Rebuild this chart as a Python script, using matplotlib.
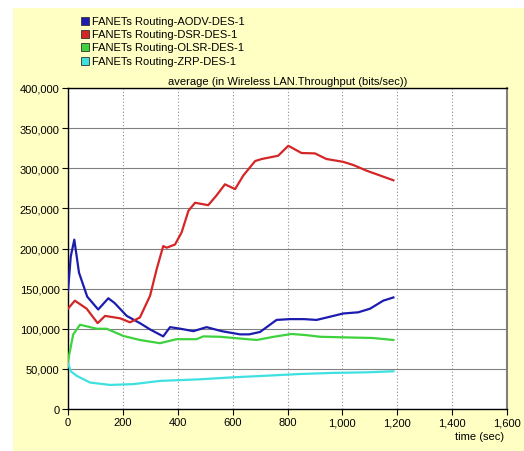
import matplotlib.pyplot as plt
from matplotlib.patches import Rectangle
from matplotlib.ticker import FuncFormatter

plt.rcParams['font.family'] = ['Liberation Sans', 'DejaVu Sans']

# time (sec) and throughput (bits/sec)
aodv_t = [0, 10, 23, 40, 70, 110, 147, 170, 214, 262, 300, 347, 372, 410, 457, 505, 560, 627, 660, 700, 724, 760, 809, 860, 906, 967, 1003, 1058, 1101, 1149, 1186]
aodv_v = [147000, 190000, 211000, 170000, 140000, 124000, 138000, 132000, 116000, 107000, 99000, 90500, 102000, 100000, 97000, 102000, 97000, 93000, 93000, 96000, 102000, 111000, 112000, 112000, 111000, 116000, 119000, 120500, 125000, 135000, 139000]

dsr_t = [0, 25, 68, 108, 135, 190, 226, 262, 299, 323, 347, 360, 390, 414, 439, 463, 511, 541, 572, 609, 639, 682, 706, 766, 803, 851, 900, 942, 1003, 1040, 1088, 1186]
dsr_v = [125000, 135000, 125000, 107000, 116000, 113000, 108000, 114000, 141000, 174000, 203000, 201000, 205000, 220000, 247000, 257000, 254000, 266000, 280000, 274000, 291000, 309000, 311500, 315600, 328000, 319000, 318500, 311500, 308000, 304000, 297000, 285000]

olsr_t = [0, 19, 44, 105, 141, 202, 262, 335, 396, 469, 493, 554, 620, 688, 750, 815, 870, 919, 1040, 1110, 1186]
olsr_v = [60000, 93000, 105000, 100000, 100000, 91000, 86000, 82000, 87000, 87000, 90500, 90000, 88000, 86000, 90000, 93500, 92000, 90000, 89000, 88500, 86000]

zrp_t = [0, 10, 31, 80, 153, 238, 335, 481, 602, 724, 845, 967, 1088, 1186]
zrp_v = [57000, 47000, 41500, 33000, 30000, 31000, 35000, 37000, 39500, 41500, 43600, 45000, 45700, 47000]

names = ['FANETs Routing-AODV-DES-1', 'FANETs Routing-DSR-DES-1',
         'FANETs Routing-OLSR-DES-1', 'FANETs Routing-ZRP-DES-1']
colors = ['#1c1cb0', '#d42626', '#3ed23e', '#3ee0e0']

fig = plt.figure(figsize=(5.24, 4.52), dpi=100)
fig.patch.set_facecolor('white')
fig.patches.append(Rectangle((13 / 524, 0), 1, (452 - 9) / 452, transform=fig.transFigure,
                             facecolor='#ffffc4', edgecolor='none', zorder=-10))

ax = fig.add_axes([68 / 524, 42 / 452, 439 / 524, 321 / 452])
ax.set_facecolor('white')

series = [(aodv_t, aodv_v), (dsr_t, dsr_v), (olsr_t, olsr_v), (zrp_t, zrp_v)]
for (t, v), c in zip(series, colors):
    ax.plot(t, v, color=c, lw=1.6, zorder=3)

ax.set_xlim(0, 1600)
ax.set_ylim(0, 400000)
ax.set_xticks(range(0, 1601, 200))
ax.set_yticks(range(0, 400001, 50000))
fmt = FuncFormatter(lambda x, p: f'{int(x):,}')
ax.xaxis.set_major_formatter(fmt)
ax.yaxis.set_major_formatter(fmt)
ax.tick_params(labelsize=8, length=4, width=0.8, direction='out', color='black', pad=2)

ax.yaxis.grid(True, color='#808080', lw=0.8, ls='-')
ax.xaxis.grid(True, color='#909090', lw=0.8, ls=(0, (1, 2)))
ax.set_axisbelow(True)

for s in ['top', 'left', 'bottom']:
    ax.spines[s].set_color('black')
    ax.spines[s].set_linewidth(1)
ax.spines['right'].set_color('#808080')
ax.spines['right'].set_linewidth(1.5)

ax.set_title('average (in Wireless LAN.Throughput (bits/sec))', fontsize=8, pad=3)
fig.text(504 / 524, 1 - 437 / 452, 'time (sec)', fontsize=8, ha='right', va='center')

# legend as coloured squares with text
for i, (n, c) in enumerate(zip(names, colors)):
    y = 1 - (22 + 13.2 * i) / 452
    fig.patches.append(Rectangle((81 / 524, y - 4 / 452), 8 / 524, 8 / 452, transform=fig.transFigure,
                                 facecolor=c, edgecolor='#333333', lw=0.6))
    fig.text(92 / 524, y, n, fontsize=8, ha='left', va='center')

fig.savefig('out.png', dpi=100)
